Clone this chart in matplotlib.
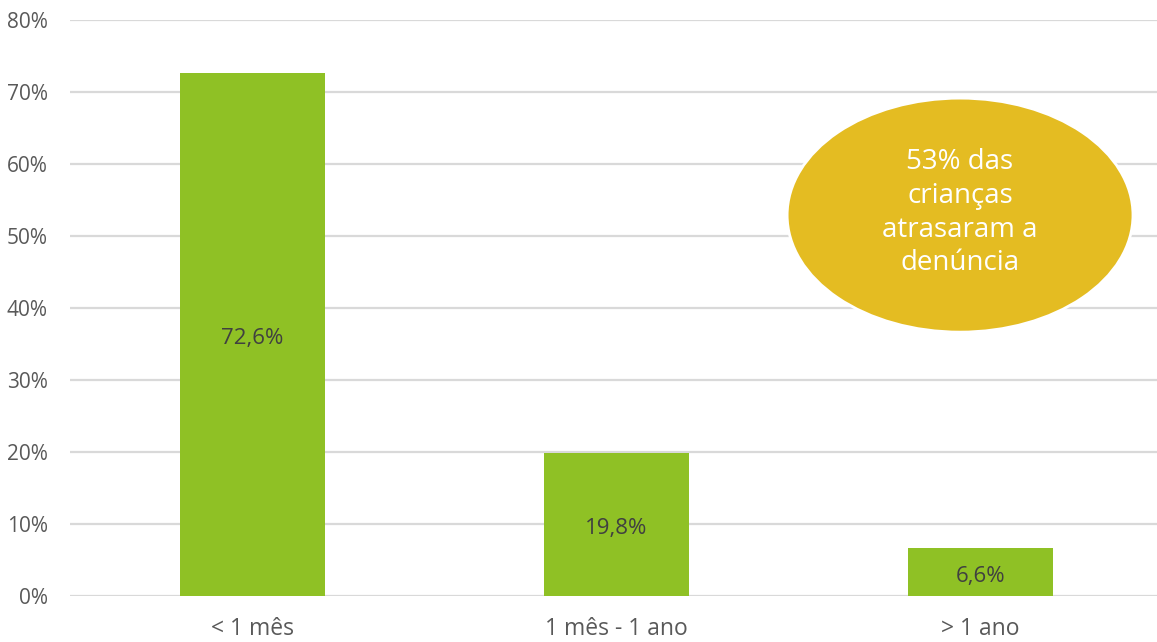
import matplotlib
matplotlib.use("Agg")
import matplotlib.pyplot as plt
from matplotlib.patches import Ellipse
from matplotlib.ticker import FuncFormatter

categories = ["< 1 mês", "1 mês - 1 ano", "> 1 ano"]
values = [72.6, 19.8, 6.6]
value_labels = ["72,6%", "19,8%", "6,6%"]
callout_text = "53% das\ncrianças\natrasaram a\ndenúncia"

plt.rcParams["font.family"] = ["Open Sans", "DejaVu Sans"]

fig = plt.figure(figsize=(11.57, 6.42), dpi=100)
ax = fig.add_axes([70 / 1157, (642 - 596) / 642, (1157 - 70) / 1157, (596 - 20) / 642])

x = list(range(len(categories)))
bars = ax.bar(x, values, width=0.4, color="#8FC125", zorder=2)

ax.set_ylim(0, 80)
ax.set_xlim(-0.501, 2.485)
ax.set_yticks(range(0, 81, 10))
ax.yaxis.set_major_formatter(FuncFormatter(lambda v, p: f"{int(v)}%"))
ax.grid(axis="y", color="#D9D9D9", linewidth=1.6, zorder=0)
ax.set_axisbelow(True)
for s in ax.spines.values():
    s.set_visible(False)
ax.tick_params(axis="y", length=0, labelsize=15, colors="#595959", pad=16)
ax.tick_params(axis="x", length=0, labelsize=16.5, colors="#595959", pad=15)
ax.set_xticks(x)
ax.set_xticklabels(categories)

for xi, v, lab in zip(x, values, value_labels):
    ax.annotate(lab, (xi, v / 2), xytext=(0, -3), textcoords="offset points",
                ha="center", va="center", fontsize=16, color="#404040", zorder=3)

ell = Ellipse((1.944, 52.9), width=0.95, height=32.5, facecolor="#E4BC22",
              edgecolor="white", linewidth=2, zorder=4)
ax.add_patch(ell)
ax.text(1.944, 53.2, callout_text, ha="center", va="center", fontsize=20,
        color="white", linespacing=1.27, zorder=5)

fig.savefig("out.png", dpi=100)
